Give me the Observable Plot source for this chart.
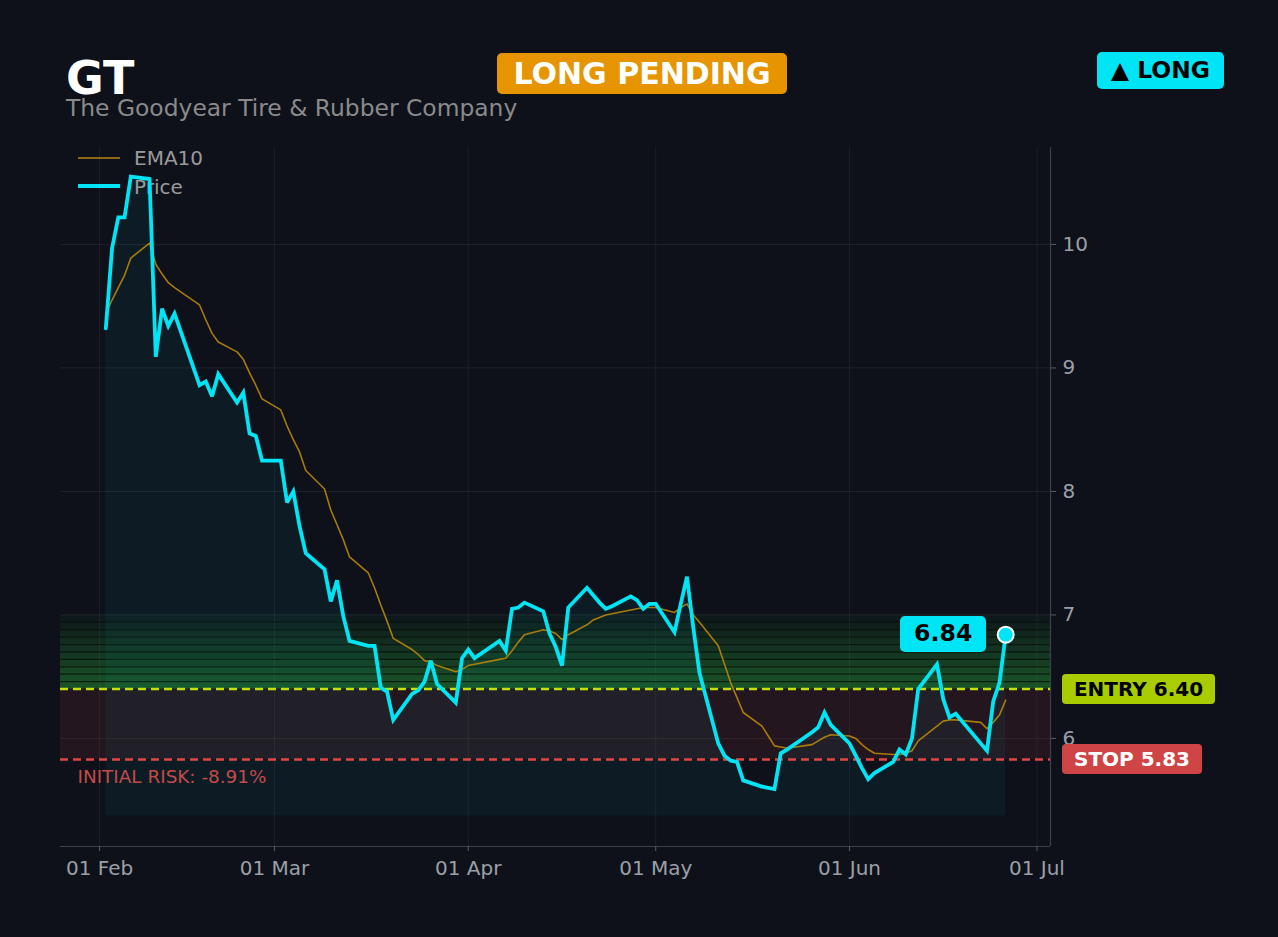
<!DOCTYPE html>
<html><head><meta charset="utf-8">
<script src="https://cdn.jsdelivr.net/npm/d3@7"></script>
<script src="https://cdn.jsdelivr.net/npm/@observablehq/plot@0.6"></script>
<style>
html,body{margin:0;padding:0;background:#0e111a;}
body{width:1278px;height:937px;overflow:hidden;font-family:"DejaVu Sans",sans-serif;}
#wrap{position:relative;width:1278px;height:937px;}
.abs{position:absolute;white-space:nowrap;line-height:1;}
.badge{position:absolute;display:flex;align-items:center;justify-content:center;font-weight:bold;border-radius:5px;white-space:nowrap;line-height:1;}
#wrap svg{position:absolute;left:0;top:0;}
</style></head><body><div id="wrap"></div>
<script>
// ---------- data ----------
const ticker = "GT";
const companyName = "The Goodyear Tire & Rubber Company";
const statusLabel = "LONG PENDING";
const directionLabel = "▲ LONG";
const entryPrice = 6.40;
const stopPrice = 5.83;
const zoneTop = 7.00;
const areaBase = 5.38;
const yTicks = [6, 7, 8, 9, 10];
const monthTicks = ["2026-02-01","2026-03-01","2026-04-01","2026-05-01","2026-06-01","2026-07-01"];
const xDomain = ["2026-01-25T18:00Z","2026-07-03T04:00Z"];
const yDomain = [5.125, 10.785];

const dates = [
"2026-02-02","2026-02-03","2026-02-04","2026-02-05","2026-02-06","2026-02-09","2026-02-10","2026-02-11","2026-02-12","2026-02-13",
"2026-02-17","2026-02-18","2026-02-19","2026-02-20","2026-02-23","2026-02-24","2026-02-25","2026-02-26","2026-02-27",
"2026-03-02","2026-03-03","2026-03-04","2026-03-05","2026-03-06","2026-03-09","2026-03-10","2026-03-11","2026-03-12","2026-03-13",
"2026-03-16","2026-03-17","2026-03-18","2026-03-19","2026-03-20","2026-03-23","2026-03-24","2026-03-25","2026-03-26","2026-03-27",
"2026-03-30","2026-03-31",
"2026-04-01","2026-04-02","2026-04-06","2026-04-07","2026-04-08","2026-04-09","2026-04-10","2026-04-13","2026-04-14","2026-04-15",
"2026-04-16","2026-04-17","2026-04-20","2026-04-21","2026-04-22","2026-04-23","2026-04-24","2026-04-27","2026-04-28","2026-04-29","2026-04-30",
"2026-05-01","2026-05-04","2026-05-05","2026-05-06","2026-05-07","2026-05-08","2026-05-11","2026-05-12","2026-05-13","2026-05-14",
"2026-05-15","2026-05-18","2026-05-19","2026-05-20","2026-05-21","2026-05-22","2026-05-26","2026-05-27","2026-05-28","2026-05-29",
"2026-06-01","2026-06-02","2026-06-03","2026-06-04","2026-06-05","2026-06-08","2026-06-09","2026-06-10","2026-06-11","2026-06-12",
"2026-06-15","2026-06-16","2026-06-17","2026-06-18","2026-06-22","2026-06-23","2026-06-24","2026-06-25","2026-06-26"
];
const closes = [
9.32,9.97,10.22,10.22,10.55,10.53,9.09,9.48,9.34,9.44,
8.86,8.89,8.77,8.95,8.72,8.80,8.47,8.45,8.25,
8.25,7.91,8.00,7.72,7.50,7.37,7.11,7.28,6.99,6.79,
6.75,6.75,6.41,6.38,6.15,6.36,6.39,6.46,6.63,6.44,
6.29,6.65,
6.72,6.65,6.79,6.71,7.05,7.06,7.10,7.03,6.85,6.74,
6.59,7.06,7.22,7.16,7.10,7.05,7.07,7.15,7.12,7.05,7.09,
7.09,6.86,7.09,7.31,6.90,6.53,5.96,5.86,5.82,5.81,
5.66,5.61,5.60,5.59,5.88,5.91,6.05,6.09,6.21,6.11,
5.96,5.86,5.76,5.67,5.72,5.81,5.91,5.87,6.00,6.40,
6.60,6.32,6.17,6.20,5.96,5.90,6.30,6.45,6.84
];
const ema10 = [
9.44,9.55,9.65,9.75,9.89,10.01,9.84,9.76,9.69,9.65,
9.51,9.39,9.28,9.21,9.13,9.07,8.96,8.86,8.75,
8.66,8.53,8.42,8.32,8.17,8.02,7.85,7.73,7.61,7.47,
7.34,7.22,7.08,6.95,6.81,6.72,6.68,6.63,6.62,6.59,
6.54,6.56,
6.59,6.60,6.64,6.65,6.71,6.78,6.84,6.88,6.87,6.85,
6.80,6.84,6.92,6.96,6.98,7.00,7.01,7.04,7.05,7.06,7.06,
7.06,7.02,7.06,7.09,7.00,6.94,6.75,6.60,6.45,6.33,
6.21,6.10,6.02,5.94,5.93,5.92,5.95,5.98,6.01,6.03,
6.02,6.00,5.95,5.91,5.88,5.87,5.87,5.88,5.90,5.98,
6.10,6.14,6.15,6.15,6.13,6.08,6.13,6.19,6.31
];

// ---------- build ----------
const series = dates.map((d, i) => ({date: new Date(d), close: closes[i], ema: ema10[i]}));
const last = series[series.length - 1];
const nBands = 10;
const bands = d3.range(nBands).map(i => {
  const h = (zoneTop - entryPrice) / nBands;
  return {y1: entryPrice + i * h, y2: entryPrice + (i + 1) * h, o: 0.34 * (1 - i / nBands) + 0.01};
});
const riskPct = (stopPrice - entryPrice) / entryPrice * 100;

const CYAN = "#00e5f5";
const chart = Plot.plot({
  width: 1278, height: 937,
  marginLeft: 60, marginRight: 228, marginTop: 147, marginBottom: 91,
  style: {background: "transparent", color: "#9ba0a8", fontFamily: "DejaVu Sans, sans-serif", fontSize: "20px"},
  x: {type: "utc", domain: xDomain.map(d => new Date(d))},
  y: {domain: yDomain},
  marks: [
    Plot.gridX(monthTicks.map(d => new Date(d)), {stroke: "#ffffff", strokeOpacity: 0.06}),
    Plot.gridY(yTicks, {stroke: "#ffffff", strokeOpacity: 0.07}),
    Plot.rect([{y1: stopPrice, y2: entryPrice}], {y1: "y1", y2: "y2", fill: "#e04040", fillOpacity: 0.1, inset: 0}),
    Plot.rect(bands, {y1: "y1", y2: "y2", fill: "#2ecc40", fillOpacity: "o", inset: 0}),
    Plot.ruleY(bands.slice(1).map(b => b.y1), {stroke: "#08100b", strokeOpacity: 0.75, strokeWidth: 1.3}),
    Plot.areaY(series, {x: "date", y1: areaBase, y2: "close", fill: CYAN, fillOpacity: 0.05}),
    Plot.ruleY([areaBase], {x1: series[0].date, x2: last.date, stroke: CYAN, strokeOpacity: 0.06}),
    Plot.ruleY([entryPrice], {stroke: "#c6e000", strokeWidth: 2.5, strokeDasharray: "8,5"}),
    Plot.ruleY([stopPrice], {stroke: "#e04848", strokeWidth: 2.5, strokeDasharray: "8,5"}),
    Plot.line(series, {x: "date", y: "ema", stroke: "#b8860b", strokeWidth: 1.6, strokeOpacity: 0.9}),
    Plot.line(series, {x: "date", y: "close", stroke: CYAN, strokeWidth: 3.8, strokeLinejoin: "miter", strokeMiterlimit: 3}),
    Plot.dot([last], {x: "date", y: "close", r: 8, fill: CYAN, stroke: "#ffffff", strokeWidth: 2}),
    Plot.text([stopPrice], {y: d => d, frameAnchor: "left", dx: 17, dy: 18, textAnchor: "start",
      text: () => `INITIAL RISK: ${riskPct.toFixed(2)}%`, fill: "#c44a4a", fontSize: 18.4}),
    Plot.ruleY([yDomain[0]], {stroke: "#ffffff", strokeOpacity: 0.2, strokeWidth: 1.2}),
    Plot.ruleX([new Date(xDomain[1])], {stroke: "#ffffff", strokeOpacity: 0.2, strokeWidth: 1.2}),
    Plot.axisX(monthTicks.map(d => new Date(d)), {tickFormat: d3.utcFormat("%d %b"), tickSize: 5, tickPadding: 9, stroke: "#5a5e66"}),
    Plot.axisY(yTicks, {anchor: "right", tickFormat: d3.format("d"), tickSize: 5, tickPadding: 7, stroke: "#5a5e66"})
  ]
});

const wrap = document.getElementById("wrap");
function add(html) { const t = document.createElement("div"); t.innerHTML = html; const el = t.firstElementChild; wrap.appendChild(el); return el; }

// legend (beneath the svg)
add(`<div class="abs" style="left:78px;top:157px;width:42px;height:2px;background:#8b6914"></div>`);
add(`<div class="abs" style="left:78px;top:184px;width:42px;height:4px;background:${CYAN}"></div>`);
add(`<div class="abs" style="left:134px;top:148px;font-size:20px;color:#9a9a9a">EMA10</div>`);
add(`<div class="abs" style="left:134px;top:177px;font-size:20px;color:#9a9a9a">Price</div>`);

wrap.appendChild(chart);

// header
add(`<div class="abs" style="left:66px;top:60px;font-size:46px;line-height:0.8;font-weight:bold;color:#ffffff">${ticker}</div>`);
add(`<div class="abs" style="left:66px;top:99px;font-size:23.4px;line-height:0.8;color:#8a8a8a">${companyName.replace("&","&amp;")}</div>`);
add(`<div class="badge" style="left:497px;top:53px;width:290px;height:41px;background:#e69500;color:#ffffff;font-size:30px">${statusLabel}</div>`);
add(`<div class="badge" style="left:1097px;top:52px;width:127px;height:37px;background:${CYAN};color:#000;font-size:23.4px">${directionLabel}</div>`);

// price-attached badges, positioned through the plot scales
const xs = chart.scale("x"), ys = chart.scale("y");
const lx = xs.apply(last.date), ly = ys.apply(last.close);
add(`<div class="badge" style="left:${lx - 105}px;top:${ly - 18}px;width:86px;height:36px;background:${CYAN};color:#000;font-size:23.6px">${last.close.toFixed(2)}</div>`);
const ey = ys.apply(entryPrice), sy = ys.apply(stopPrice);
add(`<div class="badge" style="left:1062px;top:${ey - 15}px;width:153px;height:30px;background:#a8cc00;color:#000;font-size:20px;border-radius:4px">ENTRY ${entryPrice.toFixed(2)}</div>`);
add(`<div class="badge" style="left:1062px;top:${sy - 15}px;width:140px;height:30px;background:#cf4444;color:#fff;font-size:20px;border-radius:4px">STOP ${stopPrice.toFixed(2)}</div>`);
</script></body></html>
